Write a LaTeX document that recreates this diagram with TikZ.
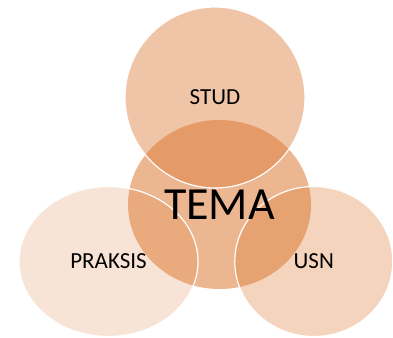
\documentclass[tikz,border=0pt]{standalone}
\usepackage{fontspec}
\setmainfont{Carlito}
\usetikzlibrary{shapes.geometric}
\definecolor{venn}{RGB}{220,120,50}
\tikzset{set node/.style={ellipse,fill=venn,draw=white,line width=1.2pt,inner sep=0pt,text opacity=1,font=\fontsize{23}{26}\selectfont},
}

\begin{document}
\begin{tikzpicture}[x=1pt,y=-1pt]
		\useasboundingbox (0,0) rectangle (393,337);
		\node[set node,fill opacity=0.54,draw=none,minimum width=183pt,minimum height=169pt] (tema) at (219.5,204.5) {};
		\node[set node,fill opacity=0.2,minimum width=179pt,minimum height=150pt] (praksis) at (108.5,261.5) {PRAKSIS};
		\node[set node,fill opacity=0.32,minimum width=158pt,minimum height=150pt] (usn) at (313.8,261.5) {USN};
		\node[set node,fill opacity=0.43,minimum width=180pt,minimum height=181pt] (stud) at (215,97.5) {STUD};
		\node[font=\fontsize{46}{50}\selectfont] (temalabel) at (tema) {TEMA};
	\end{tikzpicture}
\end{document}
